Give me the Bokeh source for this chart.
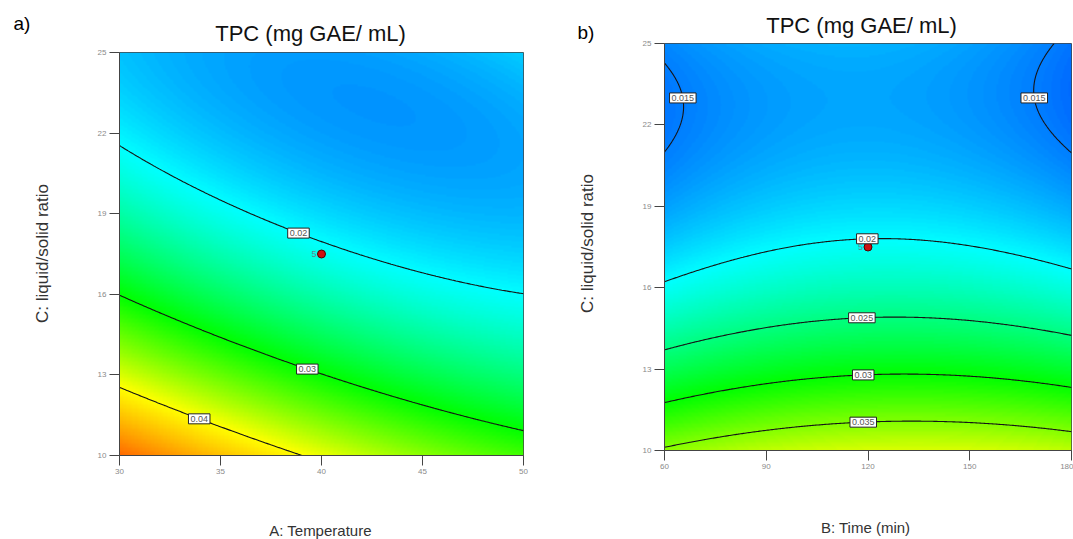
import numpy as np
import contourpy
from bokeh.plotting import figure
from bokeh.models import Range1d, FixedTicker, LinearColorMapper, Label
from bokeh.layouts import row, column
from bokeh.embed import file_html
from bokeh.resources import INLINE

# ---------------- data ----------------
# response-surface model terms (coded units: u = factor on x axis, v = C: liquid/solid ratio)
model_terms = ["intercept", "u", "v", "u*v", "u^2", "v^2"]
# panel a: TPC vs A: Temperature and C (B held at 120 min)
coef_a = [0.02068, -0.004084, -0.0115, 0.0043, 0.001712, 0.00700]
# panel b: TPC vs B: Time and C (A held at 40)
coef_b = [0.02042, 0.000305, -0.01068, -0.000675, -0.002036, 0.0073]

temp_range = [30, 50]
time_range = [60, 180]
ratio_range = [10, 25]

temp_ticks = [30, 35, 40, 45, 50]
time_ticks = [60, 90, 120, 150, 180]
ratio_ticks = [10, 13, 16, 19, 22, 25]

levels_a = [0.02, 0.03, 0.04]
level_labels_a = ["0.02", "0.03", "0.04"]
levels_b = [0.015, 0.015, 0.02, 0.025, 0.03, 0.035]
level_labels_b = ["0.015", "0.015", "0.02", "0.025", "0.03", "0.035"]

center_a = [40, 17.5]
center_b = [120, 17.5]
center_runs = "5"

title_text = "TPC (mg GAE/ mL)"
xlabel_a = "A: Temperature"
xlabel_b = "B: Time (min)"
ylabel = "C: liquid/solid ratio"

# ---------------- styling ----------------
FONT = "Liberation Sans"
color_stops = [0.010, 0.020, 0.030, 0.040, 0.056]
stop_rgb = [(0, 0, 255), (0, 255, 255), (0, 255, 0), (255, 255, 0), (255, 0, 0)]
vals = np.linspace(color_stops[0], color_stops[-1], 256)
rgb = np.array(stop_rgb, dtype=float)
palette = []
for v in vals:
    r = np.interp(v, color_stops, rgb[:, 0])
    g = np.interp(v, color_stops, rgb[:, 1])
    b = np.interp(v, color_stops, rgb[:, 2])
    palette.append("#%02x%02x%02x" % (int(round(r)), int(round(g)), int(round(b))))
mapper = LinearColorMapper(palette=palette, low=color_stops[0], high=color_stops[-1])


def surface(coef, xr, n=300):
    xs = np.linspace(xr[0], xr[1], n)
    ys = np.linspace(ratio_range[0], ratio_range[1], n)
    X, Y = np.meshgrid(xs, ys)
    u = (X - (xr[0] + xr[1]) / 2) / ((xr[1] - xr[0]) / 2)
    v = (Y - (ratio_range[0] + ratio_range[1]) / 2) / ((ratio_range[1] - ratio_range[0]) / 2)
    Z = coef[0] + coef[1] * u + coef[2] * v + coef[3] * u * v + coef[4] * u ** 2 + coef[5] * v ** 2
    return xs, ys, Z


def snap(xs, ys, Z, level, anchor, sx, sy):
    gen = contourpy.contour_generator(xs, ys, Z)
    best = None
    for seg in gen.lines(level):
        d = ((seg[:, 0] - anchor[0]) * sx) ** 2 + ((seg[:, 1] - anchor[1]) * sy) ** 2
        i = int(d.argmin())
        if best is None or d[i] < best[0]:
            best = (d[i], seg[i])
    return best[1]


def make_panel(coef, xr, xticks, levels, labels, anchors, center, letter, pos,
               width, height, bl, br, bt, bb, xlabel):
    fw = width - bl - br
    fh = height - bt - bb
    sx = fw / (xr[1] - xr[0])
    sy = fh / (ratio_range[1] - ratio_range[0])
    p = figure(width=width, height=height, x_range=Range1d(*xr), y_range=Range1d(*ratio_range),
               output_backend="svg", toolbar_location=None,
               min_border_left=bl, min_border_right=br, min_border_top=bt, min_border_bottom=bb)
    xs, ys, Z = surface(coef, xr)
    p.image(image=[Z], x=xr[0], y=ratio_range[0], dw=xr[1] - xr[0],
            dh=ratio_range[1] - ratio_range[0], color_mapper=mapper)
    p.contour(xs, ys, Z, levels=sorted(set(levels)), line_color="#151515", line_width=1.1)
    for lev, txt, anc in zip(levels, labels, anchors):
        px, py = snap(xs, ys, Z, lev, anc, sx, sy)
        p.add_layout(Label(x=px, y=py, text=txt, text_font=FONT, text_font_size="9px",
                           text_color="#555555", text_align="center", text_baseline="middle",
                           background_fill_color="white", border_line_color="#222222",
                           border_line_width=1, padding=2))
    p.scatter(x=[center[0]], y=[center[1]], size=8, fill_color="#cc1010", line_color="#500000")
    p.add_layout(Label(x=center[0], y=center[1], x_offset=-5, text=center_runs, text_font=FONT,
                       text_font_size="9px", text_color="#6a7f90", text_align="right",
                       text_baseline="middle"))
    # axes
    for ax in (p.xaxis[0], p.yaxis[0]):
        ax.major_tick_out = 10
        ax.major_tick_in = 0
        ax.minor_tick_out = 0
        ax.minor_tick_in = 0
        ax.axis_line_color = "#444444"
        ax.major_tick_line_color = "#444444"
        ax.major_label_text_font = FONT
        ax.major_label_text_font_size = "8px"
        ax.major_label_text_color = "#8a8a8a"
        ax.major_label_standoff = 3
    p.xaxis.ticker = FixedTicker(ticks=xticks)
    p.yaxis.ticker = FixedTicker(ticks=ratio_ticks)
    p.grid.visible = False
    p.outline_line_color = "#444444"
    p.background_fill_color = "white"
    # texts outside the frame, placed in the side panels so they are not clipped
    (tx, ty), (lx, ly), (yx, yy), (bx, by) = pos
    p.add_layout(Label(x=tx, y=ty, text=title_text, text_font=FONT, text_font_size="22px",
                       text_color="#111111", text_align="center", text_baseline="middle"), "above")
    p.add_layout(Label(x=lx, y=ly, text=letter, text_font=FONT, text_font_size="19px",
                       text_color="#000000", text_align="left", text_baseline="middle"), "left")
    p.add_layout(Label(x=yx, y=yy, text=ylabel, text_font=FONT, text_font_size="17px",
                       text_color="#333333", text_align="center", text_baseline="middle",
                       angle=np.pi / 2), "left")
    p.add_layout(Label(x=bx, y=by, text=xlabel, text_font=FONT, text_font_size="15px",
                       text_color="#333333", text_align="center", text_baseline="middle"), "below")
    return p


anchors_a = [(38.9, 18.38), (39.3, 13.24), (33.96, 11.42)]
pos_a = [(39.46, 25.71), (24.75, 26.08), (26.19, 17.52), (39.95, 7.21)]
pa = make_panel(coef_a, temp_range, temp_ticks, levels_a, level_labels_a, anchors_a, center_a,
                "a)", pos_a, 540, 539, 119, 17, 52, 84, xlabel_a)

anchors_b = [(66.8, 23.0), (168.6, 23.0), (119.9, 18.03), (118.0, 15.16), (118.4, 13.06), (118.4, 11.33)]
pos_b = [(118.1, 25.66), (34.35, 25.41), (37.3, 17.63), (119.3, 7.16)]
pb = make_panel(coef_b, time_range, time_ticks, levels_b, level_labels_b, anchors_b, center_b,
                "b)", pos_b, 533, 539, 124, 2, 43, 89, xlabel_b)

layout = row(column(pa), column(pb))
open("out.html", "w").write(file_html(layout, INLINE))
